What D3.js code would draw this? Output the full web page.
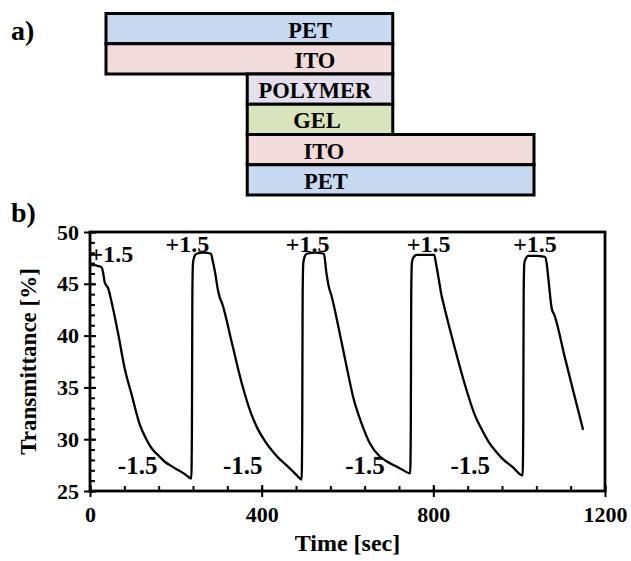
<!DOCTYPE html>
<html>
<head>
<meta charset="utf-8">
<script src="https://cdn.jsdelivr.net/npm/d3@7"></script>
<style>
body { margin: 0; background: #fff; }
svg { display: block; }
svg text { font-family: "Liberation Serif", "Times New Roman", serif; font-weight: bold; fill: #000; }
</style>
</head>
<body>
<svg id="fig" width="631" height="561"></svg>
<script>
/* Panel a: device layer stack */
const layerNames = ["PET", "ITO", "POLYMER", "GEL", "ITO", "PET"]
const layerColors = ["#c6d9f1", "#f2dcdb", "#e4dfec", "#d8e4bc", "#f2dcdb", "#c6d9f1"]
const layerStart = [0, 0, 3.3, 3.3, 3.3, 3.3]
const layerEnd = [6.7, 6.7, 6.7, 6.7, 10, 10]
const layerTextAt = [4.77, 4.88, 4.88, 4.93, 5.09, 5.14]

/* Panel b: transmittance switching at +/-1.5 V */
const timeSec = [0, 10, 20, 27, 30, 34, 37, 42, 50, 66, 81, 97, 116, 130, 144, 160, 175, 190, 206, 222, 236,
  237.5, 238.5, 240, 243, 248, 265, 282, 286, 291, 299, 303, 307, 330, 353, 377, 392, 408, 424, 439, 455, 470, 482, 493,
  494.5, 495.5, 497, 500, 505, 525, 545, 551, 556, 563, 582, 598, 613, 633, 652, 676, 690, 707, 726, 746,
  747.5, 748.5, 750, 753, 761, 780, 802, 806, 812, 819, 823, 850, 874, 897, 912, 928, 944, 959, 985, 1008,
  1009.5, 1010.5, 1012, 1015, 1021, 1040, 1060, 1064, 1068, 1076, 1082, 1107, 1130, 1149]
const transmittance = [46.8, 46.8, 46.7, 46.6, 46.2, 45.2, 44.9, 44.6, 43.3, 40.1, 36.8, 34.3, 31.4, 30.1, 29.1, 28.4, 27.8, 27.4, 27.0, 26.6, 26.2,
  31, 44, 47.0, 47.6, 47.9, 48.0, 47.9, 47.2, 46.2, 44.2, 43.6, 43.2, 39.4, 35.5, 32.3, 30.9, 29.8, 28.9, 28.2, 27.6, 27.0, 26.5, 26.1,
  31, 44, 47.0, 47.6, 47.9, 48.0, 47.9, 46.0, 44.8, 43.8, 40.2, 37.0, 34.1, 31.5, 29.6, 28.3, 27.9, 27.5, 27.1, 26.7,
  31, 44, 47.0, 47.5, 47.8, 47.8, 47.8, 47.0, 45.6, 43.9, 43.2, 38.8, 35.2, 32.3, 31.0, 29.8, 28.9, 28.2, 27.3, 26.5,
  31, 44, 47.0, 47.4, 47.7, 47.7, 47.6, 47.0, 45.5, 42.6, 42.0, 37.8, 34.0, 30.9]

const xTicks = [0, 400, 800, 1200]
const yTicks = [25, 30, 35, 40, 45, 50]
const onLabelTime = [50, 227, 507, 789, 1037]
const onLabelValue = [47.1, 48.05, 48.05, 48.05, 48.05]
const offLabelTime = [111, 356, 641, 886]
const offLabelValue = [26.6, 26.6, 26.6, 26.6]

const svg = d3.select("#fig")

/* --- panel a --- */
svg.append("text").attr("x", 11).attr("y", 40).style("font-size", "28px").text("a)")

const sx = d3.scaleLinear().domain([0, 10]).range([106, 534])
const rows = d3.scaleBand().domain(d3.range(layerNames.length)).range([13.5, 195])

const layer = svg.append("g").selectAll("g")
  .data(layerNames)
  .enter()
  .append("g")

layer.append("rect")
  .attr("x", (d, i) => sx(layerStart[i]))
  .attr("y", (d, i) => rows(i))
  .attr("width", (d, i) => sx(layerEnd[i]) - sx(layerStart[i]))
  .attr("height", rows.bandwidth())
  .attr("fill", (d, i) => layerColors[i])
  .attr("stroke", "#000")
  .attr("stroke-width", 3)

layer.append("text")
  .attr("x", (d, i) => sx(layerTextAt[i]))
  .attr("y", (d, i) => rows(i) + rows.bandwidth() / 2 + 9)
  .attr("text-anchor", "middle")
  .style("font-size", "22.5px")
  .text(d => d)

/* --- panel b --- */
svg.append("text").attr("x", 11).attr("y", 222).style("font-size", "28px").text("b)")

const x = d3.scaleLinear().domain([0, 1200]).range([90, 605])
const y = d3.scaleLinear().domain([25, 50]).range([491, 232])

const plot = svg.append("g")

// minor ticks, inside
plot.append("g")
  .attr("transform", "translate(0," + y(25) + ")")
  .call(d3.axisBottom(x).tickValues(d3.range(0, 1201, 80)).tickSize(-5).tickFormat(""))
plot.append("g")
  .attr("transform", "translate(" + x(0) + ",0)")
  .call(d3.axisLeft(y).tickValues(d3.range(25, 51, 1)).tickSize(-5).tickFormat(""))

// major ticks crossing the axis
const gx = plot.append("g")
  .attr("transform", "translate(0," + y(25) + ")")
  .call(d3.axisBottom(x).tickValues(xTicks).tickSize(6).tickPadding(9).tickFormat(d3.format("d")))
gx.append("g").call(d3.axisBottom(x).tickValues(xTicks).tickSize(-6).tickFormat(""))

const gy = plot.append("g")
  .attr("transform", "translate(" + x(0) + ",0)")
  .call(d3.axisLeft(y).tickValues(yTicks).tickSize(6).tickPadding(5))
gy.append("g").call(d3.axisLeft(y).tickValues(yTicks).tickSize(-6).tickFormat(""))

plot.selectAll(".domain").remove()
plot.selectAll(".tick line").attr("stroke", "#000").attr("stroke-width", 2)
plot.selectAll(".tick text")
  .style("font-size", "22px")
  .style("font-family", "'Liberation Serif', 'Times New Roman', serif")
  .style("font-weight", "bold")

// frame
plot.append("rect")
  .attr("x", x(0)).attr("y", y(50))
  .attr("width", x(1200) - x(0)).attr("height", y(25) - y(50))
  .attr("fill", "none").attr("stroke", "#000").attr("stroke-width", 2.8)

const line = d3.line()
  .x((d, i) => x(timeSec[i]))
  .y(d => y(d))
  .curve(d3.curveMonotoneX)

plot.append("path")
  .datum(transmittance)
  .attr("d", line)
  .attr("fill", "none")
  .attr("stroke", "#000")
  .attr("stroke-width", 2.3)
  .attr("stroke-linejoin", "round")

plot.selectAll("text.on")
  .data(onLabelTime)
  .enter()
  .append("text")
  .attr("class", "on")
  .attr("x", d => x(d))
  .attr("y", (d, i) => y(onLabelValue[i]))
  .attr("text-anchor", "middle")
  .style("font-size", "24px")
  .text("+1.5")

plot.selectAll("text.off")
  .data(offLabelTime)
  .enter()
  .append("text")
  .attr("class", "off")
  .attr("x", d => x(d))
  .attr("y", (d, i) => y(offLabelValue[i]))
  .attr("text-anchor", "middle")
  .style("font-size", "25px")
  .text("-1.5")

// axis titles
svg.append("text")
  .attr("x", (x(0) + x(1200)) / 2)
  .attr("y", 551)
  .attr("text-anchor", "middle")
  .style("font-size", "24px")
  .text("Time [sec]")

svg.append("text")
  .attr("transform", "translate(36," + (y(25) + y(50)) / 2 + ") rotate(-90)")
  .attr("text-anchor", "middle")
  .style("font-size", "23px")
  .text("Transmittance [%]")
</script>
</body>
</html>
